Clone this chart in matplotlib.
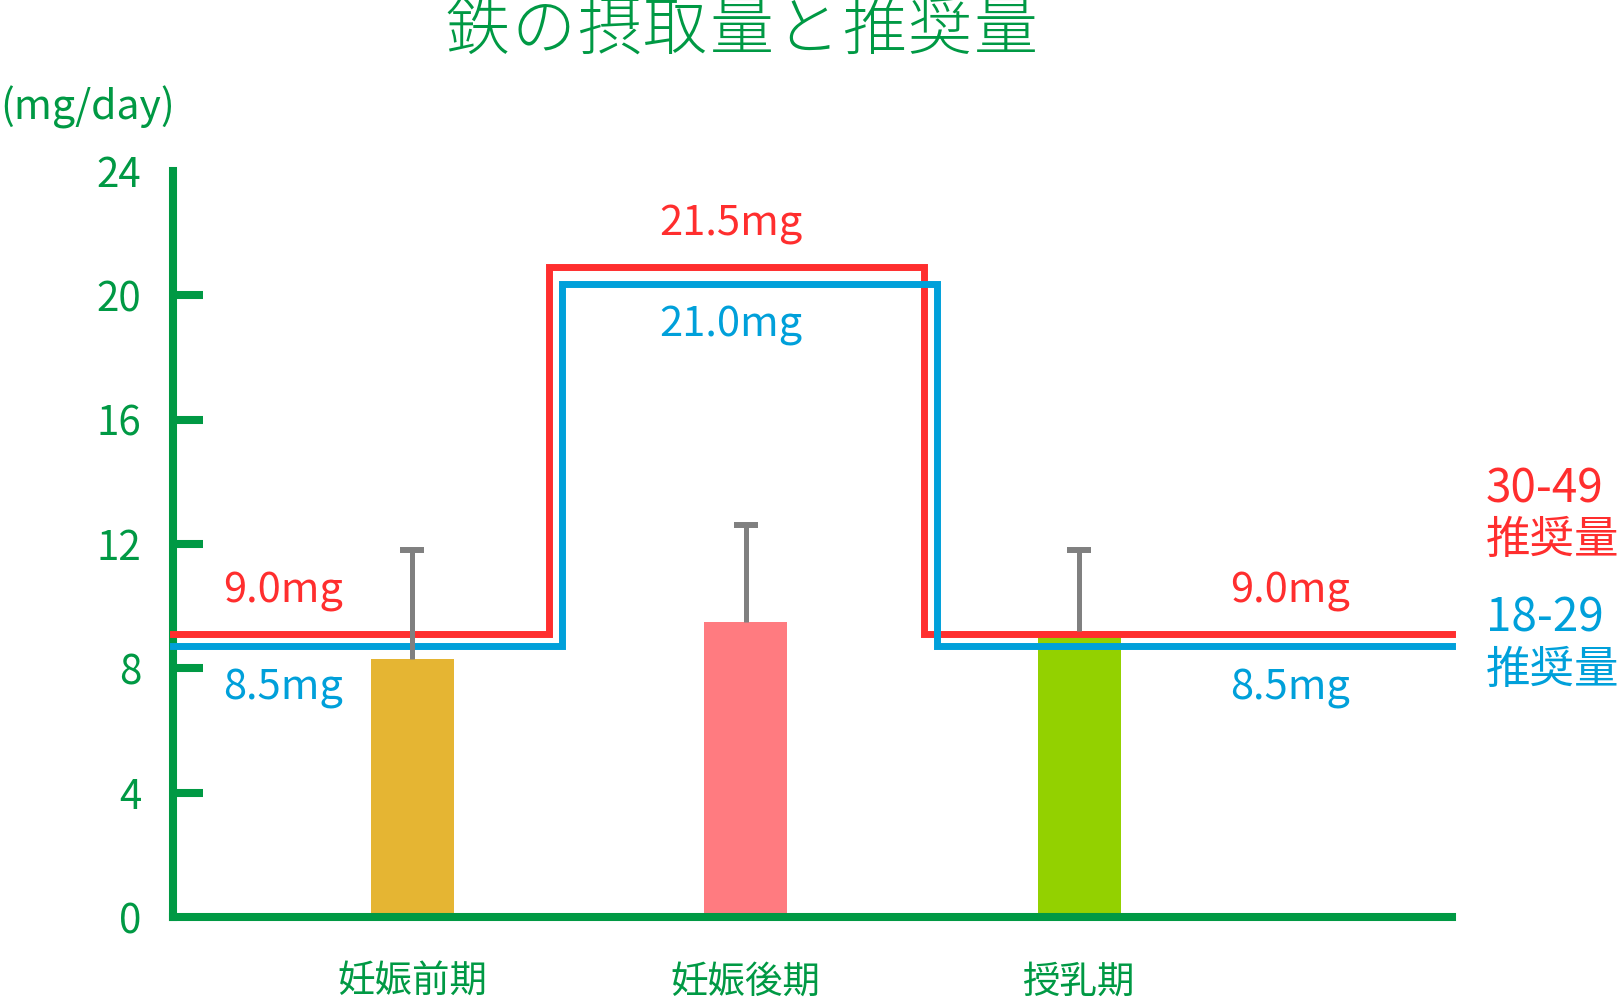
import matplotlib
matplotlib.use("Agg")
import matplotlib.pyplot as plt

plt.rcParams['font.family'] = ['Noto Sans CJK JP', 'DejaVu Sans']

# data
categories = ['妊娠前期', '妊娠後期', '授乳期']
intake = [8.3, 9.5, 9.2]
intake_err = [3.5, 3.1, 2.6]

# recommended amounts (step lines), levels as drawn in the picture
red_edges = [-0.717, 0.41, 1.535, 3.118]
red_levels = [9.12, 20.91, 9.12]
red_labels = ['9.0mg', '21.5mg', '9.0mg']
blue_edges = [-0.717, 0.45, 1.574, 3.118]
blue_levels = [8.72, 20.37, 8.72]
blue_labels = ['8.5mg', '21.0mg', '8.5mg']

yticks = [0, 4, 8, 12, 16, 20, 24]
title = '鉄の摂取量と推奨量'

GREEN = '#009944'
RED = '#FF2E2E'
BLUE = '#00A0DA'
bar_colors = ['#E5B533', '#FF7B80', '#93D100']

fig = plt.figure(figsize=(16.22, 10.05), dpi=100)
ax = fig.add_axes([173 / 1622, 88 / 1005, (1452 - 173) / 1622, 746 / 1005])
ax.set_xlim(-0.717, 3.118)
ax.set_ylim(0, 24.0)

x = list(range(len(categories)))
ax.bar(x, intake, width=0.249, color=bar_colors, zorder=2)


def step_xy(edges, levels):
    xs, ys = [], []
    for i, lv in enumerate(levels):
        xs += [edges[i], edges[i + 1]]
        ys += [lv, lv]
    return xs, ys


xs, ys = step_xy(red_edges, red_levels)
ax.plot(xs, ys, color=RED, lw=5.0, solid_joinstyle='miter', zorder=3, clip_on=False)
xs, ys = step_xy(blue_edges, blue_levels)
ax.plot(xs, ys, color=BLUE, lw=5.0, solid_joinstyle='miter', zorder=3, clip_on=False)

eb = ax.errorbar(x, intake, yerr=[[0] * 3, intake_err], fmt='none', ecolor='#808080',
                 elinewidth=3.6, capsize=8.3, capthick=4.3, zorder=4)
eb[1][0].set_visible(False)  # no cap at the bar top

# value labels
lab_kw = dict(fontsize=30, va='baseline')
ax.text(-0.567, 10.13, red_labels[0], color=RED, ha='left', **lab_kw)
ax.text(-0.567, 7.01, blue_labels[0], color=BLUE, ha='left', **lab_kw)
ax.text(0.957, 21.91, red_labels[1], color=RED, ha='center', **lab_kw)
ax.text(0.957, 18.66, blue_labels[1], color=BLUE, ha='center', **lab_kw)
ax.text(2.453, 10.13, red_labels[2], color=RED, ha='left', **lab_kw)
ax.text(2.453, 7.01, blue_labels[2], color=BLUE, ha='left', **lab_kw)

# legend-like labels on the right
ax.text(3.22, 13.35, '30-49', color=RED, fontsize=33, va='baseline', clip_on=False)
ax.text(3.22, 11.71, '推奨量', color=RED, fontsize=32, va='baseline', clip_on=False)
ax.text(3.22, 9.20, '18-29', color=BLUE, fontsize=33, va='baseline', clip_on=False)
ax.text(3.22, 7.53, '推奨量', color=BLUE, fontsize=32, va='baseline', clip_on=False)

# axes styling
for s in ['top', 'right']:
    ax.spines[s].set_visible(False)
for s in ['left', 'bottom']:
    ax.spines[s].set_color(GREEN)
    ax.spines[s].set_linewidth(5.8)

ax.set_yticks(yticks)
ax.set_yticklabels([str(v) for v in yticks])
ax.tick_params(axis='y', direction='in', length=21.6, width=5.8, color=GREEN,
               labelcolor=GREEN, labelsize=29, pad=23)
ax.yaxis.get_major_ticks()[-1].tick1line.set_visible(False)
ax.yaxis.get_major_ticks()[0].tick1line.set_visible(False)

ax.set_xticks(x)
ax.set_xticklabels(categories)
ax.tick_params(axis='x', length=0, labelcolor=GREEN, labelsize=27, pad=33)

# title, spaced out character by character
for i, ch in enumerate(title):
    fig.text((477 + i * 66.1) / 1622, 1 - 31 / 1005, ch, color=GREEN, fontsize=46,
             fontweight='light', ha='center', va='center')
fig.text(0.0, 1 - 107 / 1005, '(mg/day)', color=GREEN, fontsize=29.5, ha='left', va='center')

fig.savefig('out.png', dpi=100, facecolor='white')
